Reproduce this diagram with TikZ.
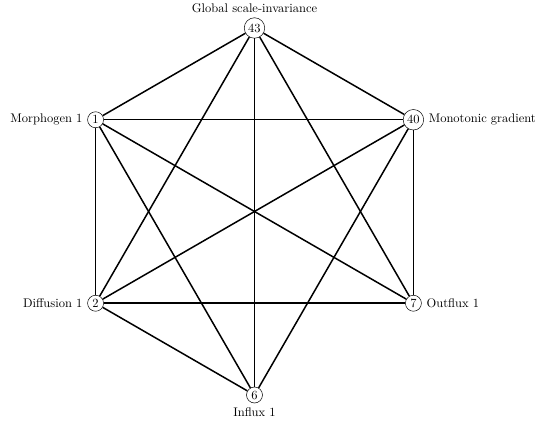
\documentclass[tikz,border=0pt]{standalone}
\usetikzlibrary{calc}

\begin{document}
\begin{tikzpicture}[line width=1.2pt,
  vertex/.style={draw, thin, circle, inner sep=1.5pt, minimum size=12.8pt, fill=white},
]
  \useasboundingbox (-203.6pt,-173.2pt) rectangle (227.6pt,169.2pt);
  \node[vertex, label={[label distance=0pt]above:Global scale-invariance}] (v43) at (90:146.8pt) {43};
  \node[vertex, label={[label distance=0pt]right:Monotonic gradient}] (v40) at (30:146.8pt) {40};
  \node[vertex, label={[label distance=0pt]right:Outflux 1}] (v7) at (-30:146.8pt) {7};
  \node[vertex, label={[label distance=0pt]below:Influx 1}] (v6) at (-90:146.8pt) {6};
  \node[vertex, label={[label distance=0pt]left:Diffusion 1}] (v2) at (-150:146.8pt) {2};
  \node[vertex, label={[label distance=0pt]left:Morphogen 1}] (v1) at (150:146.8pt) {1};
  % no edge between 6 and 7
  \foreach \a/\b in {v43/v40, v43/v7, v43/v6, v43/v2, v43/v1,
                     v40/v7, v40/v6, v40/v2, v40/v1,
                     v7/v2, v7/v1,
                     v6/v2, v6/v1,
                     v2/v1}
    \draw (\a) -- (\b);
\end{tikzpicture}
\end{document}
